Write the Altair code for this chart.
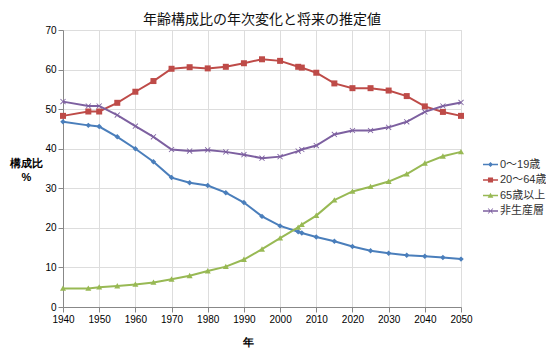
import altair as alt
import pandas as pd

years = [1940, 1947, 1950, 1955, 1960, 1965, 1970, 1975, 1980, 1985, 1990, 1995,
         2000, 2005, 2006, 2010, 2015, 2020, 2025, 2030, 2035, 2040, 2045, 2050]
series_names = ["0～19歳", "20～64歳", "65歳以上", "非生産層"]
young = [46.8, 45.9, 45.6, 43.0, 40.0, 36.7, 32.7, 31.4, 30.7, 28.9, 26.4, 22.9,
         20.5, 19.0, 18.7, 17.7, 16.6, 15.3, 14.2, 13.6, 13.1, 12.8, 12.5, 12.1]
working = [48.3, 49.4, 49.4, 51.6, 54.4, 57.1, 60.2, 60.6, 60.3, 60.7, 61.6, 62.6,
           62.2, 60.7, 60.5, 59.2, 56.5, 55.3, 55.3, 54.7, 53.3, 50.7, 49.3, 48.3]
elderly = [4.7, 4.7, 5.0, 5.3, 5.7, 6.2, 7.0, 7.9, 9.1, 10.2, 12.0, 14.6,
           17.4, 20.1, 20.8, 23.1, 27.0, 29.2, 30.4, 31.7, 33.6, 36.3, 38.1, 39.2]
nonprod = [51.9, 50.8, 50.8, 48.5, 45.7, 43.0, 39.8, 39.4, 39.7, 39.2, 38.5, 37.6,
           38.0, 39.4, 39.8, 40.8, 43.6, 44.6, 44.6, 45.4, 46.8, 49.3, 50.8, 51.7]
x_ticks = list(range(1940, 2051, 10))
y_ticks = list(range(0, 71, 10))

colors = ["#4A7EBB", "#BE4B48", "#98B954", "#7D60A0"]

rows = []
for name, vals in zip(series_names, [young, working, elderly, nonprod]):
    for yr, v in zip(years, vals):
        rows.append({"year": yr, "value": v, "series": name})
df = pd.DataFrame(rows)

# marker shapes for plot points (unit coords)
x_shape = ("M-0.95,-0.75L-0.75,-0.95L0.95,0.75L0.75,0.95Z "
           "M0.75,-0.95L0.95,-0.75L-0.75,0.95L-0.95,0.75Z")
marker_paths = [
    "M0,-1L1,0L0,1L-1,0Z",
    "M-1,-1H1V1H-1Z",
    "M0,-1L1,0.8H-1Z",
    x_shape,
]
marker_sizes = [30, 36, 36, 36]
# legend symbol paths (line + marker)
bar = "M-1,-0.1H1V0.1H-1Z "
legend_paths = [
    bar + "M0,-0.34L0.34,0L0,0.34L-0.34,0Z",
    bar + "M-0.34,-0.34H0.34V0.34H-0.34Z",
    bar + "M0,-0.36L0.38,0.3H-0.38Z",
    bar + "M-0.36,-0.29L-0.29,-0.36L0.36,0.29L0.29,0.36Z M0.29,-0.36L0.36,-0.29L-0.29,0.36L-0.36,0.29Z",
]

font = "Liberation Sans, Noto Sans CJK JP"
cscale = alt.Scale(domain=series_names, range=colors)

base = alt.Chart(df)
x_enc = alt.X("year:Q", scale=alt.Scale(domain=[1940, 2050], nice=False),
              axis=alt.Axis(values=x_ticks, format="d", title="年", labelFlush=False,
                            titleX=185, titleY=29, titleBaseline="top",
                            titleAlign="center"))
y_enc = alt.Y("value:Q", scale=alt.Scale(domain=[0, 70], nice=False),
              axis=alt.Axis(values=y_ticks, title=["構成比", "%"], titleAngle=0,
                            labelFlush=False,
                            titleAlign="center", titleBaseline="top",
                            titleX=-37, titleY=127, titleLineHeight=14))

leg = alt.Legend(title=None, orient="none", legendX=420, legendY=127,
                 symbolSize=225, rowPadding=2.5, labelOffset=2,
                 symbolOpacity=1, symbolStrokeWidth=0,
                 labelFontSize=11, labelColor="#333333", labelFont=font)
legend_layer = base.mark_point(filled=True, size=0, strokeWidth=0).encode(
    x=x_enc, y=y_enc,
    fill=alt.Fill("series:N", scale=cscale, legend=leg),
    shape=alt.Shape("series:N", scale=alt.Scale(domain=series_names, range=legend_paths),
                    legend=leg),
)

layers = [legend_layer]
for name, path, sz in zip(series_names, marker_paths, marker_sizes):
    sub = base.transform_filter(alt.datum.series == name)
    layers.append(sub.mark_line(strokeWidth=2).encode(
        x=x_enc, y=y_enc,
        color=alt.Color("series:N", scale=cscale, legend=None),
    ))
    layers.append(sub.mark_point(filled=True, size=sz, opacity=1, strokeWidth=0,
                                 shape=path).encode(
        x=x_enc, y=y_enc,
        color=alt.Color("series:N", scale=cscale, legend=None),
    ))

chart = alt.layer(*layers).properties(
    width=398, height=277,
    title=alt.TitleParams("年齢構成比の年次変化と将来の推定値", fontSize=14,
                          fontWeight="normal", font="Noto Sans CJK JP",
                          color="#111111", offset=-2),
    autosize=alt.AutoSizeParams(type="none"),
    padding={"left": 55, "top": 22, "right": 85, "bottom": 44},
).configure_view(stroke=None).configure_axis(
    gridColor="#B3B3B3", gridWidth=1, domainColor="#A6A6A6", tickColor="#A6A6A6",
    tickSize=5, labelFont=font, labelFontSize=11, labelColor="#333333",
    titleFont="Noto Sans CJK JP", titleFontSize=12, titleFontWeight="bold",
    titleColor="#111111", labelPadding=4,
).configure(background="white")

chart.save("out.html", embed_options={"renderer": "svg", "actions": False})
